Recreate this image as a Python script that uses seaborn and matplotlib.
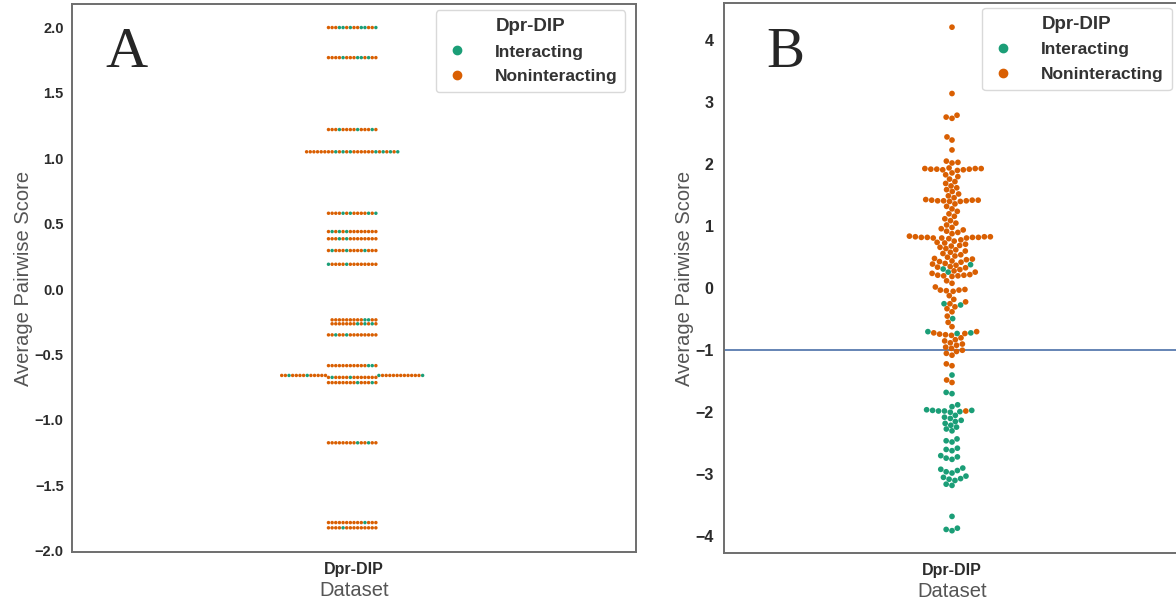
import numpy as np
import pandas as pd
import seaborn as sns
import matplotlib.pyplot as plt
from matplotlib.lines import Line2D

hue_order = ["Interacting", "Noninteracting"]
palette = ["#1b9e77", "#d95f02"]
dataset_name = "Dpr-DIP"

# Panel A: discrete score levels and how many pairs fall on each level
a_levels = [2.00, 1.77, 1.22, 1.05, 0.58, 0.44, 0.385, 0.295, 0.19,
            -0.235, -0.265, -0.35, -0.585, -0.66, -0.675, -0.715,
            -1.175, -1.785, -1.825]
a_interacting = [6, 4, 3, 7, 4, 3, 2, 3, 2, 2, 3, 2, 2, 4, 2, 2, 2, 1, 1]
a_noninteracting = [8, 10, 11, 19, 10, 11, 12, 11, 12, 11, 10, 12, 12,
                    22, 12, 12, 12, 13, 13]

# Panel B: individual average pairwise scores
b_interacting = [0.38, 0.31, 0.26, -0.25, -0.27, -0.49, -0.70, -0.72, -0.73,
                 -1.40, -1.68, -1.70, -1.88, -1.91, -1.96, -1.97, -1.97,
                 -1.98, -1.98, -1.99, -2.00, -2.05, -2.08, -2.10, -2.13,
                 -2.15, -2.18, -2.21, -2.24, -2.27, -2.30, -2.43, -2.46,
                 -2.48, -2.58, -2.60, -2.62, -2.70, -2.72, -2.74, -2.76,
                 -2.90, -2.92, -2.94, -2.96, -2.98, -3.03, -3.05, -3.07,
                 -3.08, -3.10, -3.16, -3.18, -3.68, -3.87, -3.89, -3.91]
b_noninteracting = [4.21, 3.14, 2.79, 2.76, 2.74, 2.44, 2.39, 2.23, 2.05,
                    2.03, 2.02,
                    1.94, 1.93, 1.93, 1.93, 1.92, 1.92, 1.92, 1.91, 1.91,
                    1.90,
                    1.86, 1.83, 1.80, 1.76, 1.72, 1.69, 1.65, 1.62, 1.59,
                    1.56, 1.52, 1.49, 1.46,
                    1.43, 1.42, 1.42, 1.42, 1.41, 1.41, 1.41, 1.40, 1.40,
                    1.36, 1.32, 1.28, 1.24, 1.20, 1.16, 1.12, 1.09, 1.05,
                    1.02,
                    0.98, 0.96, 0.94, 0.92, 0.90, 0.88,
                    0.84, 0.83, 0.83, 0.83, 0.82, 0.82, 0.82, 0.82, 0.81,
                    0.81, 0.81, 0.80,
                    0.78, 0.76, 0.74, 0.73, 0.71, 0.69, 0.68, 0.66, 0.64,
                    0.62, 0.60, 0.58, 0.56,
                    0.54, 0.52, 0.50, 0.48, 0.47, 0.46, 0.44, 0.43, 0.42,
                    0.40, 0.39, 0.37, 0.35, 0.34, 0.33, 0.30, 0.28, 0.26,
                    0.24, 0.22, 0.21, 0.21, 0.20, 0.20, 0.19,
                    0.12, 0.08, 0.02, -0.02, -0.03, -0.03, -0.04, -0.05,
                    -0.12, -0.18, -0.22, -0.25, -0.30, -0.33, -0.38, -0.45,
                    -0.55, -0.62,
                    -0.70, -0.72, -0.73, -0.74, -0.75, -0.76,
                    -0.80, -0.83, -0.85, -0.88, -0.90, -0.92, -0.95, -0.97,
                    -1.00, -1.02, -1.05, -1.08,
                    -1.22, -1.25, -1.48, -1.52, -1.98]
b_threshold = -1.0

a_ticks = [-2.0, -1.5, -1.0, -0.5, 0.0, 0.5, 1.0, 1.5, 2.0]
b_ticks = [-4, -3, -2, -1, 0, 1, 2, 3, 4]


def level_rows(level, n_int, n_non):
    """Rows for one score level, with the interacting pairs spread through."""
    total = n_int + n_non
    slots = {int((k + 0.5) * total / n_int) for k in range(n_int)}
    labels = ["Interacting" if i in slots else "Noninteracting"
              for i in range(total)]
    return [(level, lab) for lab in labels]


rows_a = []
for lv, ni, nn in zip(a_levels, a_interacting, a_noninteracting):
    rows_a += level_rows(lv, ni, nn)
df_a = pd.DataFrame(rows_a, columns=["score", "Dpr-DIP"])
df_a["Dataset"] = dataset_name

df_b = pd.DataFrame({
    "score": b_interacting + b_noninteracting,
    "Dpr-DIP": ["Interacting"] * len(b_interacting)
               + ["Noninteracting"] * len(b_noninteracting),
})
df_b["Dataset"] = dataset_name

sns.set_style("white")
plt.rcParams["font.family"] = ["Liberation Sans", "DejaVu Sans"]

W, H = 1176, 605
fig = plt.figure(figsize=(W / 100, H / 100), dpi=100)
ax_a = fig.add_axes([72 / W, 1 - 552 / H, (636 - 72) / W, (552 - 4) / H])
ax_b = fig.add_axes([724 / W, 1 - 553 / H, (1180 - 724) / W, (553 - 3) / H])

sns.swarmplot(data=df_a, x="Dataset", y="score", hue="Dpr-DIP",
              hue_order=hue_order, palette=palette, size=2.5,
              linewidth=0, ax=ax_a, legend=False)
sns.swarmplot(data=df_b, x="Dataset", y="score", hue="Dpr-DIP",
              hue_order=hue_order, palette=palette, size=4.1,
              linewidth=0, ax=ax_b, legend=False)
ax_b.axhline(b_threshold, color="#4a6fa8", lw=1.2, zorder=0)

spine_color = "#6e6e6e"
tick_color = "#2b2b2b"
label_color = "#555555"

for ax, ticks, ylim, fmt in [(ax_a, a_ticks, (-2.01, 2.18), "{:.1f}"),
                             (ax_b, b_ticks, (-4.27, 4.6), "{:d}")]:
    ax.set_ylim(*ylim)
    ax.set_xlim(-0.5, 0.5)
    ax.set_yticks(ticks)
    ax.set_yticklabels([fmt.format(t).replace("-", "\u2212") for t in ticks],
                       fontsize=10.5 if ax is ax_a else 11.5,
                       fontweight="bold", color=tick_color)
    ax.set_xticks([0])
    ax.set_xticklabels([dataset_name], fontsize=11.5, fontweight="bold",
                       color=tick_color)
    ax.tick_params(axis="x", length=0, pad=7)
    ax.tick_params(axis="y", length=0, pad=6 if ax is ax_a else 7.5)
    ax.set_ylabel("Average Pairwise Score", fontsize=14.5, color=label_color,
                  labelpad=1)
    ax.set_xlabel("Dataset", fontsize=14.5, color=label_color, labelpad=3)
    for s in ax.spines.values():
        s.set_color(spine_color)
        s.set_linewidth(1.4)

    handles = [Line2D([], [], marker="o", ls="", color=c, markersize=6)
               for c in palette]
    anchor = (0.981, 0.989) if ax is ax_a else (0.982, 0.991)
    leg = ax.legend(handles, hue_order, title="Dpr-DIP", loc="upper right",
                    bbox_to_anchor=anchor, borderaxespad=0, frameon=True,
                    prop={"size": 12.5, "weight": "bold"},
                    title_fontproperties={"size": 13.5, "weight": "bold"},
                    handlelength=1.5, handletextpad=1.45, labelspacing=0.55,
                    borderpad=0.45, fancybox=True)
    leg.get_frame().set_edgecolor("#d0d0d0")
    for t in leg.get_texts():
        t.set_color("#333333")
    leg.get_title().set_color("#333333")

ax_b.spines["right"].set_visible(False)

fig.text(126 / W, 1 - 53 / H, "A", fontsize=42, family="Liberation Serif",
         ha="center", va="center")
fig.text(785 / W, 1 - 53 / H, "B", fontsize=41, family="Liberation Serif",
         ha="center", va="center")

fig.savefig("out.png", dpi=100)
